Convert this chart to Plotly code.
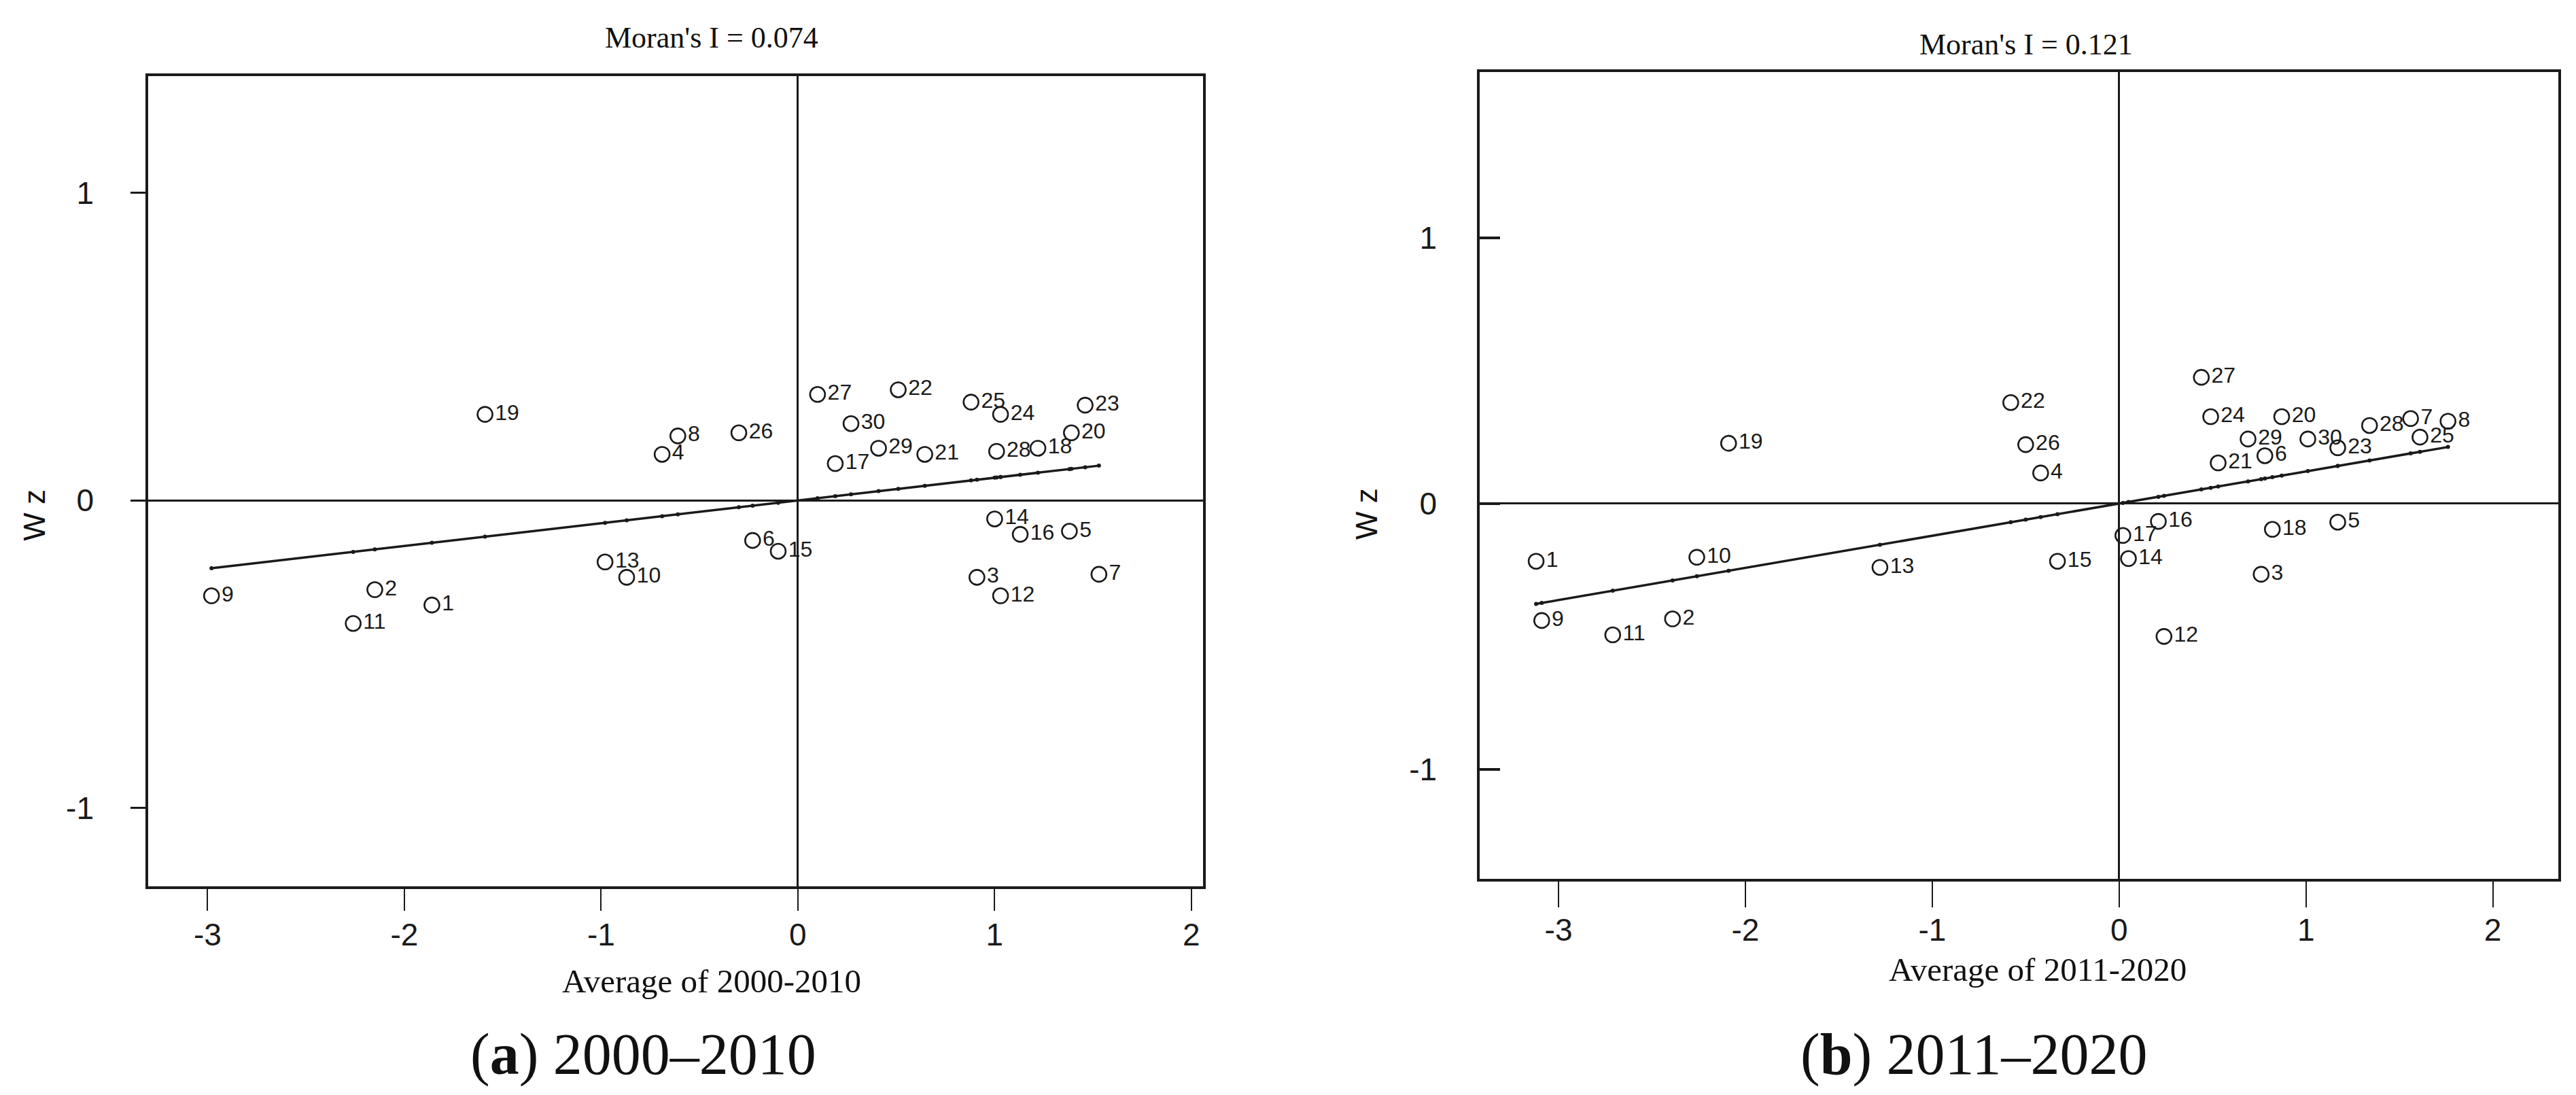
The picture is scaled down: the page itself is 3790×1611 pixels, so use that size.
import plotly.graph_objects as go

# Moran-Streudiagramme fuer zwei Zeitraeume
codes = [f"{i}" for i in range(1, 31)]

# 2000-2010
z_a = [-1.86, -2.15, 0.91, -0.69, 1.38, -0.23, 1.53, -0.61, -2.98, -0.87,
       -2.26, 1.03, -0.98, 1.00, -0.10, 1.13, 0.19, 1.22, -1.59, 1.39,
       0.645, 0.51, 1.46, 1.03, 0.88, -0.30, 0.10, 1.01, 0.41, 0.27]
wz_a = [-0.34, -0.29, -0.25, 0.15, -0.10, -0.13, -0.24, 0.21, -0.31, -0.25,
        -0.40, -0.31, -0.20, -0.06, -0.165, -0.11, 0.12, 0.17, 0.28, 0.22,
        0.15, 0.36, 0.31, 0.28, 0.32, 0.22, 0.345, 0.16, 0.17, 0.25]
moran_a = 0.074

# 2011-2020
z_b = [-3.12, -2.39, 0.76, -0.42, 1.17, 0.78, 1.56, 1.76, -3.09, -2.26,
       -2.71, 0.24, -1.28, 0.05, -0.33, 0.21, 0.02, 0.82, -2.09, 0.87,
       0.53, -0.58, 1.17, 0.49, 1.61, -0.50, 0.44, 1.34, 0.69, 1.01]
wz_b = [-0.217, -0.434, -0.266, 0.115, -0.07, 0.18, 0.32, 0.31, -0.44, -0.202,
        -0.494, -0.50, -0.24, -0.207, -0.217, -0.067, -0.12, -0.097, 0.227, 0.327,
        0.153, 0.38, 0.21, 0.327, 0.25, 0.222, 0.475, 0.294, 0.243, 0.243]
moran_b = 0.121

x_ticks = [-3, -2, -1, 0, 1, 2]
x_ticktext = ["-3", "-2", "-1", "0", "1", "2"]
y_ticks = [-1, 0, 1]
y_ticktext = ["-1", "0", "1"]

INK = "#1a1a1a"
SANS = "Liberation Sans, Arial, sans-serif"
SERIF = "Liberation Serif, Times New Roman, serif"


def add_panel(fig, z, wz, moran, xa, ya):
    # Punkte mit Beschriftung
    fig.add_trace(go.Scatter(
        x=z, y=wz, mode="markers+text", text=codes,
        textposition="middle right",
        textfont={"family": SANS, "size": 32, "color": INK},
        marker={"symbol": "circle-open", "size": 22,
                "line": {"width": 2.6, "color": INK}, "color": INK},
        xaxis=xa, yaxis=ya, showlegend=False, cliponaxis=False,
    ))
    # Regressionsgerade (Steigung = Moran's I)
    lo, hi = min(z), max(z)
    fig.add_trace(go.Scatter(
        x=[lo, hi], y=[moran * lo, moran * hi], mode="lines",
        line={"color": INK, "width": 3.5},
        xaxis=xa, yaxis=ya, showlegend=False,
    ))
    # Projektionen auf der Geraden
    fig.add_trace(go.Scatter(
        x=z, y=[moran * v for v in z], mode="markers",
        marker={"size": 6, "color": INK},
        xaxis=xa, yaxis=ya, showlegend=False,
    ))


fig = go.Figure()
add_panel(fig, z_a, wz_a, moran_a, "x", "y")
add_panel(fig, z_b, wz_b, moran_b, "x2", "y2")

axis_common = dict(
    showgrid=False, zeroline=True, zerolinecolor=INK, zerolinewidth=2.5,
    showline=True, mirror=True, linecolor=INK, linewidth=3.5,
    tickfont={"family": SANS, "size": 46, "color": INK},
    tickcolor=INK,
)

fig.update_layout(
    width=3790, height=1611,
    margin={"l": 0, "r": 0, "t": 0, "b": 0},
    paper_bgcolor="white", plot_bgcolor="white",
    xaxis=dict(axis_common, domain=[0.0554, 0.4649], range=[-3.302, 2.059],
               tickvals=x_ticks, ticktext=x_ticktext, ticks="outside",
               ticklen=32, tickwidth=2, ticklabelstandoff=-4, anchor="y"),
    yaxis=dict(axis_common, domain=[0.1955, 0.9354], range=[-1.255, 1.380],
               tickvals=y_ticks, ticktext=y_ticktext, ticks="outside",
               ticklen=22, tickwidth=3, ticklabelstandoff=45, anchor="x"),
    xaxis2=dict(axis_common, domain=[0.5723, 0.9910], range=[-3.422, 2.350],
                tickvals=x_ticks, ticktext=x_ticktext, ticks="outside",
                ticklen=38, tickwidth=2, ticklabelstandoff=-6, anchor="y2"),
    yaxis2=dict(axis_common, domain=[0.2024, 0.9392], range=[-1.412, 1.624],
                tickvals=y_ticks, ticktext=y_ticktext, ticks="inside",
                ticklen=30, tickwidth=4, ticklabelstandoff=50, anchor="x2"),
)

annotations = [
    ("Moran's I = 0.074", 0.2741, 0.9708, SERIF, 44, 0),
    ("Moran's I = 0.121", 0.7845, 0.9646, SERIF, 44, 0),
    ("Average of 2000-2010", 0.2741, 0.1092, SERIF, 49, 0),
    ("Average of 2011-2020", 0.7889, 0.1198, SERIF, 49, 0),
    ("W z", 0.0113, 0.5345, SANS, 44, -90),
    ("W z", 0.5285, 0.5357, SANS, 44, -90),
    ("(<b>a</b>) 2000–2010", 0.2475, 0.042, SERIF, 86, 0),
    ("(<b>b</b>) 2011–2020", 0.7640, 0.042, SERIF, 86, 0),
]
for text, x, y, family, size, angle in annotations:
    fig.add_annotation(
        text=text, x=x, y=y, xref="paper", yref="paper",
        xanchor="center", yanchor="middle", showarrow=False,
        textangle=angle, font={"family": family, "size": size, "color": "#111"},
    )

fig.write_html("out.html")
